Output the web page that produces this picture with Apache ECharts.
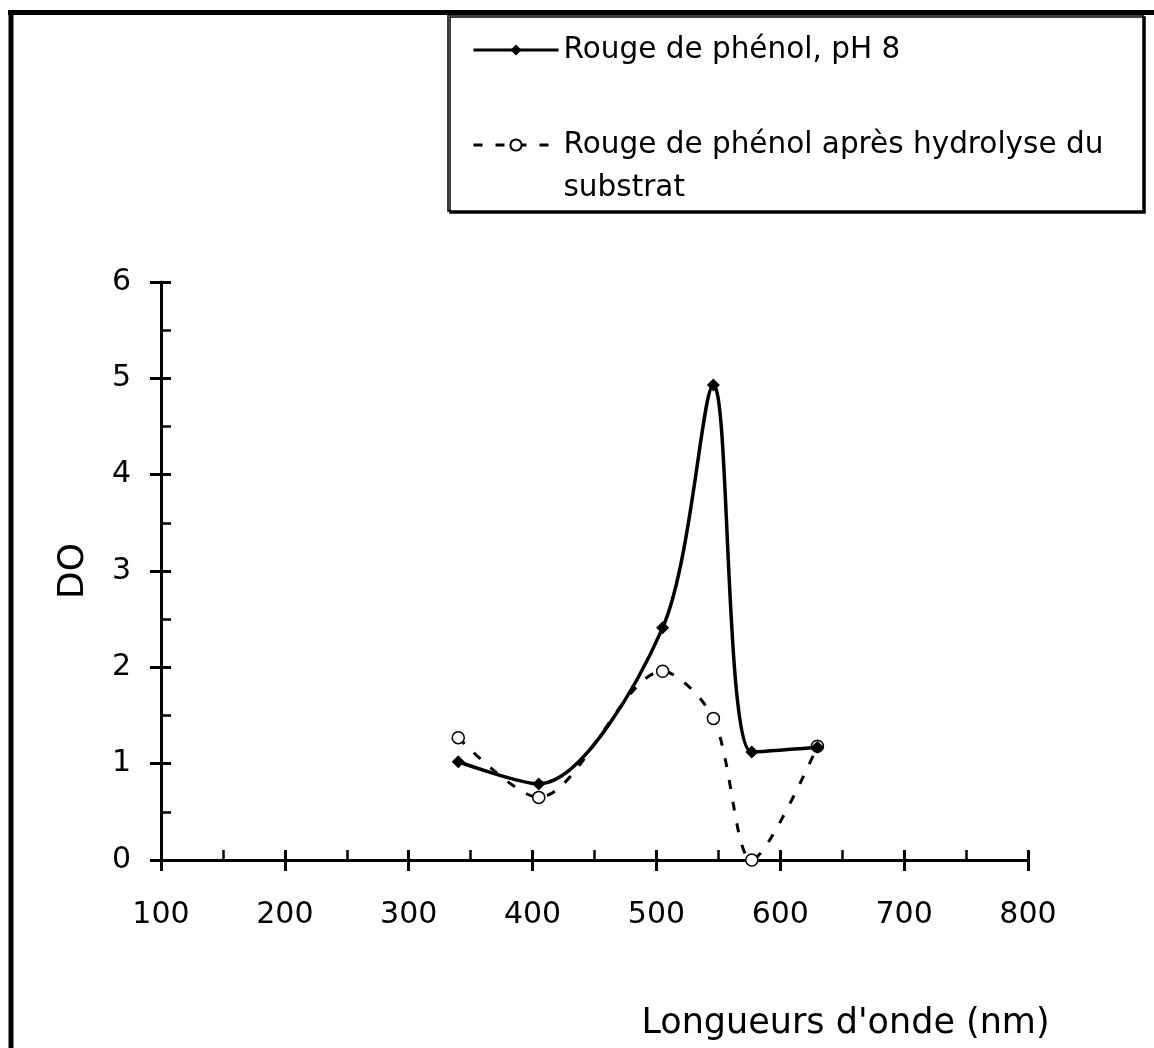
<!DOCTYPE html>
<html>
<head>
<meta charset="utf-8">
<script src="https://cdn.jsdelivr.net/npm/echarts@6/dist/echarts.min.js"></script>
<style>
  html, body { margin: 0; padding: 0; background: #fff; }
  #chart { width: 1154px; height: 1048px; }
</style>
</head>
<body>
<div id="chart"></div>
<script>
// longueurs d'onde (nm)
var wavelengths = [340, 405, 505, 546, 577, 630];
// DO - rouge de phénol pH 8
var doPh8 = [1.02, 0.79, 2.41, 4.93, 1.12, 1.17];
// DO - après hydrolyse
var doHydro = [1.27, 0.65, 1.96, 1.47, 0.0, 1.18];

var xTicks = [100, 800, 100];   // min, max, pas
var yTicks = [0, 6, 1];

var nameA = 'Rouge de phénol, pH 8';
var nameB = 'Rouge de phénol après hydrolyse du substrat';

function pairs(xs, ys) {
    return xs.map(function (x, i) { return [x, ys[i]]; });
}

var font = 'DejaVu Sans';
var chart = echarts.init(document.getElementById('chart'));

var gridBox = { left: 161, top: 282, right: 126, bottom: 188 };

var legendCommon = {
    left: 472, padding: 0,
    itemWidth: 85, itemHeight: 14,
    lineStyle: { width: 3 }
};

var option = {
    animation: false,
    backgroundColor: '#fff',
    textStyle: { fontFamily: font, color: '#000' },
    grid: [
        Object.assign({}, gridBox),
        Object.assign({}, gridBox)
    ],
    // cadre + boite de legende
    graphic: [
        { type: 'line', shape: { x1: 11, y1: 10, x2: 11, y2: 1048 }, style: { stroke: '#000', lineWidth: 5 } },
        { type: 'line', shape: { x1: 8, y1: 12.5, x2: 1154, y2: 12.5 }, style: { stroke: '#000', lineWidth: 5 } },
        {
            type: 'rect', z: -1,
            shape: { x: 448, y: 15, width: 695, height: 196 },
            style: { fill: '#fff', stroke: '#000', lineWidth: 1.5,
                shadowColor: '#000', shadowOffsetX: 2, shadowOffsetY: 2, shadowBlur: 0 }
        }
    ],
    legend: [
        Object.assign({
            data: [nameA],
            top: 28.5,
            textStyle: { fontFamily: font, fontSize: 29.5, lineHeight: 43, color: '#000' }
        }, legendCommon),
        Object.assign({
            data: [nameB],
            top: 80.5,
            // ligne vide en tete pour caler la 1re ligne sur le symbole,
            // retour a la ligne avant le dernier mot
            formatter: function (n) {
                var k = n.lastIndexOf(' ');
                return '\n' + n.slice(0, k) + '\n' + n.slice(k + 1);
            },
            textStyle: { fontFamily: font, fontSize: 29.5, lineHeight: 43, color: '#000' }
        }, legendCommon)
    ],
    xAxis: [
        {
            type: 'value', gridIndex: 0,
            min: xTicks[0], max: xTicks[1], interval: xTicks[2],
            name: "Longueurs d'onde (nm)",
            nameLocation: 'middle', nameGap: 146,
            nameTextStyle: { fontFamily: font, fontSize: 35, color: '#000', padding: [0, 0, 0, 502] },
            axisLine: { show: true, onZero: false, lineStyle: { color: '#000', width: 3 } },
            axisTick: { show: true, inside: true, length: 10, lineStyle: { color: '#000', width: 3 } },
            minorTick: { show: true, splitNumber: 2, length: 10, lineStyle: { color: '#000', width: 2.5 } },
            axisLabel: { fontFamily: font, fontSize: 30, color: '#000', margin: 40 },
            splitLine: { show: false }
        },
        {
            type: 'value', gridIndex: 1,
            min: xTicks[0], max: xTicks[1], interval: xTicks[2],
            axisLine: { show: false },
            axisTick: { show: true, inside: false, length: 11, lineStyle: { color: '#000', width: 3 } },
            axisLabel: { show: false },
            splitLine: { show: false }
        }
    ],
    yAxis: [
        {
            type: 'value', gridIndex: 0,
            min: yTicks[0], max: yTicks[1], interval: yTicks[2],
            name: 'DO',
            nameLocation: 'middle', nameGap: 69,
            nameTextStyle: { fontFamily: font, fontSize: 36, color: '#000' },
            axisLine: { show: true, onZero: false, lineStyle: { color: '#000', width: 3 } },
            axisTick: { show: true, inside: true, length: 10, lineStyle: { color: '#000', width: 3 } },
            minorTick: { show: true, splitNumber: 2, length: 10, lineStyle: { color: '#000', width: 2.5 } },
            axisLabel: { fontFamily: font, fontSize: 30, color: '#000', margin: 30 },
            splitLine: { show: false }
        },
        {
            type: 'value', gridIndex: 1,
            min: yTicks[0], max: yTicks[1], interval: yTicks[2],
            axisLine: { show: false },
            axisTick: { show: true, inside: false, length: 11, lineStyle: { color: '#000', width: 3 } },
            axisLabel: { show: false },
            splitLine: { show: false }
        }
    ],
    series: [
        {
            name: nameB,
            type: 'line',
            xAxisIndex: 0, yAxisIndex: 0,
            smooth: 0.3,
            data: pairs(wavelengths, doHydro),
            symbol: 'circle',
            symbolSize: 12,
            lineStyle: { color: '#000', width: 3, type: [9, 13] },
            itemStyle: { color: '#fff', borderColor: '#000', borderWidth: 1.5 },
            z: 2
        },
        {
            name: nameA,
            type: 'line',
            xAxisIndex: 0, yAxisIndex: 0,
            smooth: 0.3,
            data: pairs(wavelengths, doPh8),
            symbol: 'diamond',
            symbolSize: 13,
            lineStyle: { color: '#000', width: 3.5 },
            itemStyle: { color: '#000' },
            z: 3
        }
    ]
};

chart.setOption(option);
</script>
</body>
</html>
